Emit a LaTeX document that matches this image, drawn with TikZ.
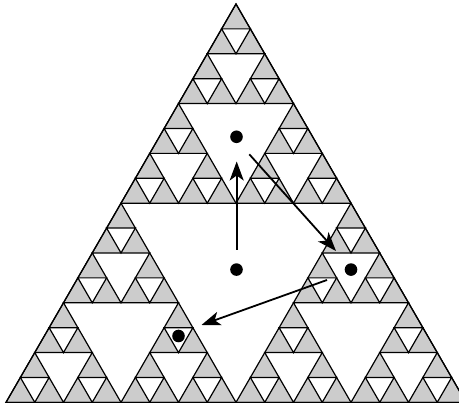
\documentclass[tikz,border=0pt]{standalone}
\usetikzlibrary{arrows.meta}
\definecolor{shadegray}{gray}{0.8}
\tikzset{
  holestyle/.style={fill=white,draw=black,line width=1.2pt,line join=miter},
  bigtri/.style={fill=shadegray,draw=black,line width=1.2pt,line join=miter},
  dot/.style={circle,fill=black,inner sep=0pt,minimum size=12.6pt},
  arr/.style={line width=1.8pt,-{Stealth[length=19pt,width=14pt,inset=5pt]}}
}
\newcommand\sierhole[4]{%
  \filldraw[holestyle] ({#1-(#3)/4},{#2+(#4)/2}) -- ({#1+(#3)/4},{#2+(#4)/2}) -- ({#1},{#2+(#4)}) -- cycle;}
\begin{document}
\begin{tikzpicture}[x=1pt,y=-1pt]
\useasboundingbox (0,0) rectangle (459,403);
\fill[white] (0,0) rectangle (459,403);
\begin{scope}
\clip (0,0) rectangle (459,403);
\coordinate (A) at (236,4);
\coordinate (B) at (6,402.37);
\coordinate (C) at (466,402.37);
\filldraw[bigtri] (A) -- (B) -- (C) -- cycle;
\sierhole{236}{4}{460}{398.37}
\foreach \a/\b in {0/0,-1/1,1/1}{
  \sierhole{236+(\a)*115}{4+(\b)*199.185}{230}{199.185}
  \foreach \c/\d in {0/0,-1/1,1/1}{
    \sierhole{236+(\a)*115+(\c)*57.5}{4+(\b)*199.185+(\d)*99.5925}{115}{99.5925}
    \foreach \e/\f in {0/0,-1/1,1/1}{
      \sierhole{236+(\a)*115+(\c)*57.5+(\e)*28.75}{4+(\b)*199.185+(\d)*99.5925+(\f)*49.796}{57.5}{49.796}
    }
  }
}
\draw[line width=1.2pt,line join=miter] (A) -- (B) -- (C) -- cycle;
\end{scope}
\node[dot] (d1) at (236.5,136.8) {};
\node[dot] (d2) at (236.5,269.6) {};
\node[dot] (d3) at (351,269.6) {};
\node[dot] (d4) at (178.5,336) {};
\coordinate (s1) at (236.7,250);
\coordinate (t1) at (236.7,161.5);
\coordinate (s2) at (249.3,154.3);
\coordinate (t2) at (336,251);
\coordinate (s3) at (327,280);
\coordinate (t3) at (201.5,325);
\draw[arr] (s1) -- (t1);
\draw[arr] (s2) -- (t2);
\draw[arr] (s3) -- (t3);
\end{tikzpicture}
\end{document}
